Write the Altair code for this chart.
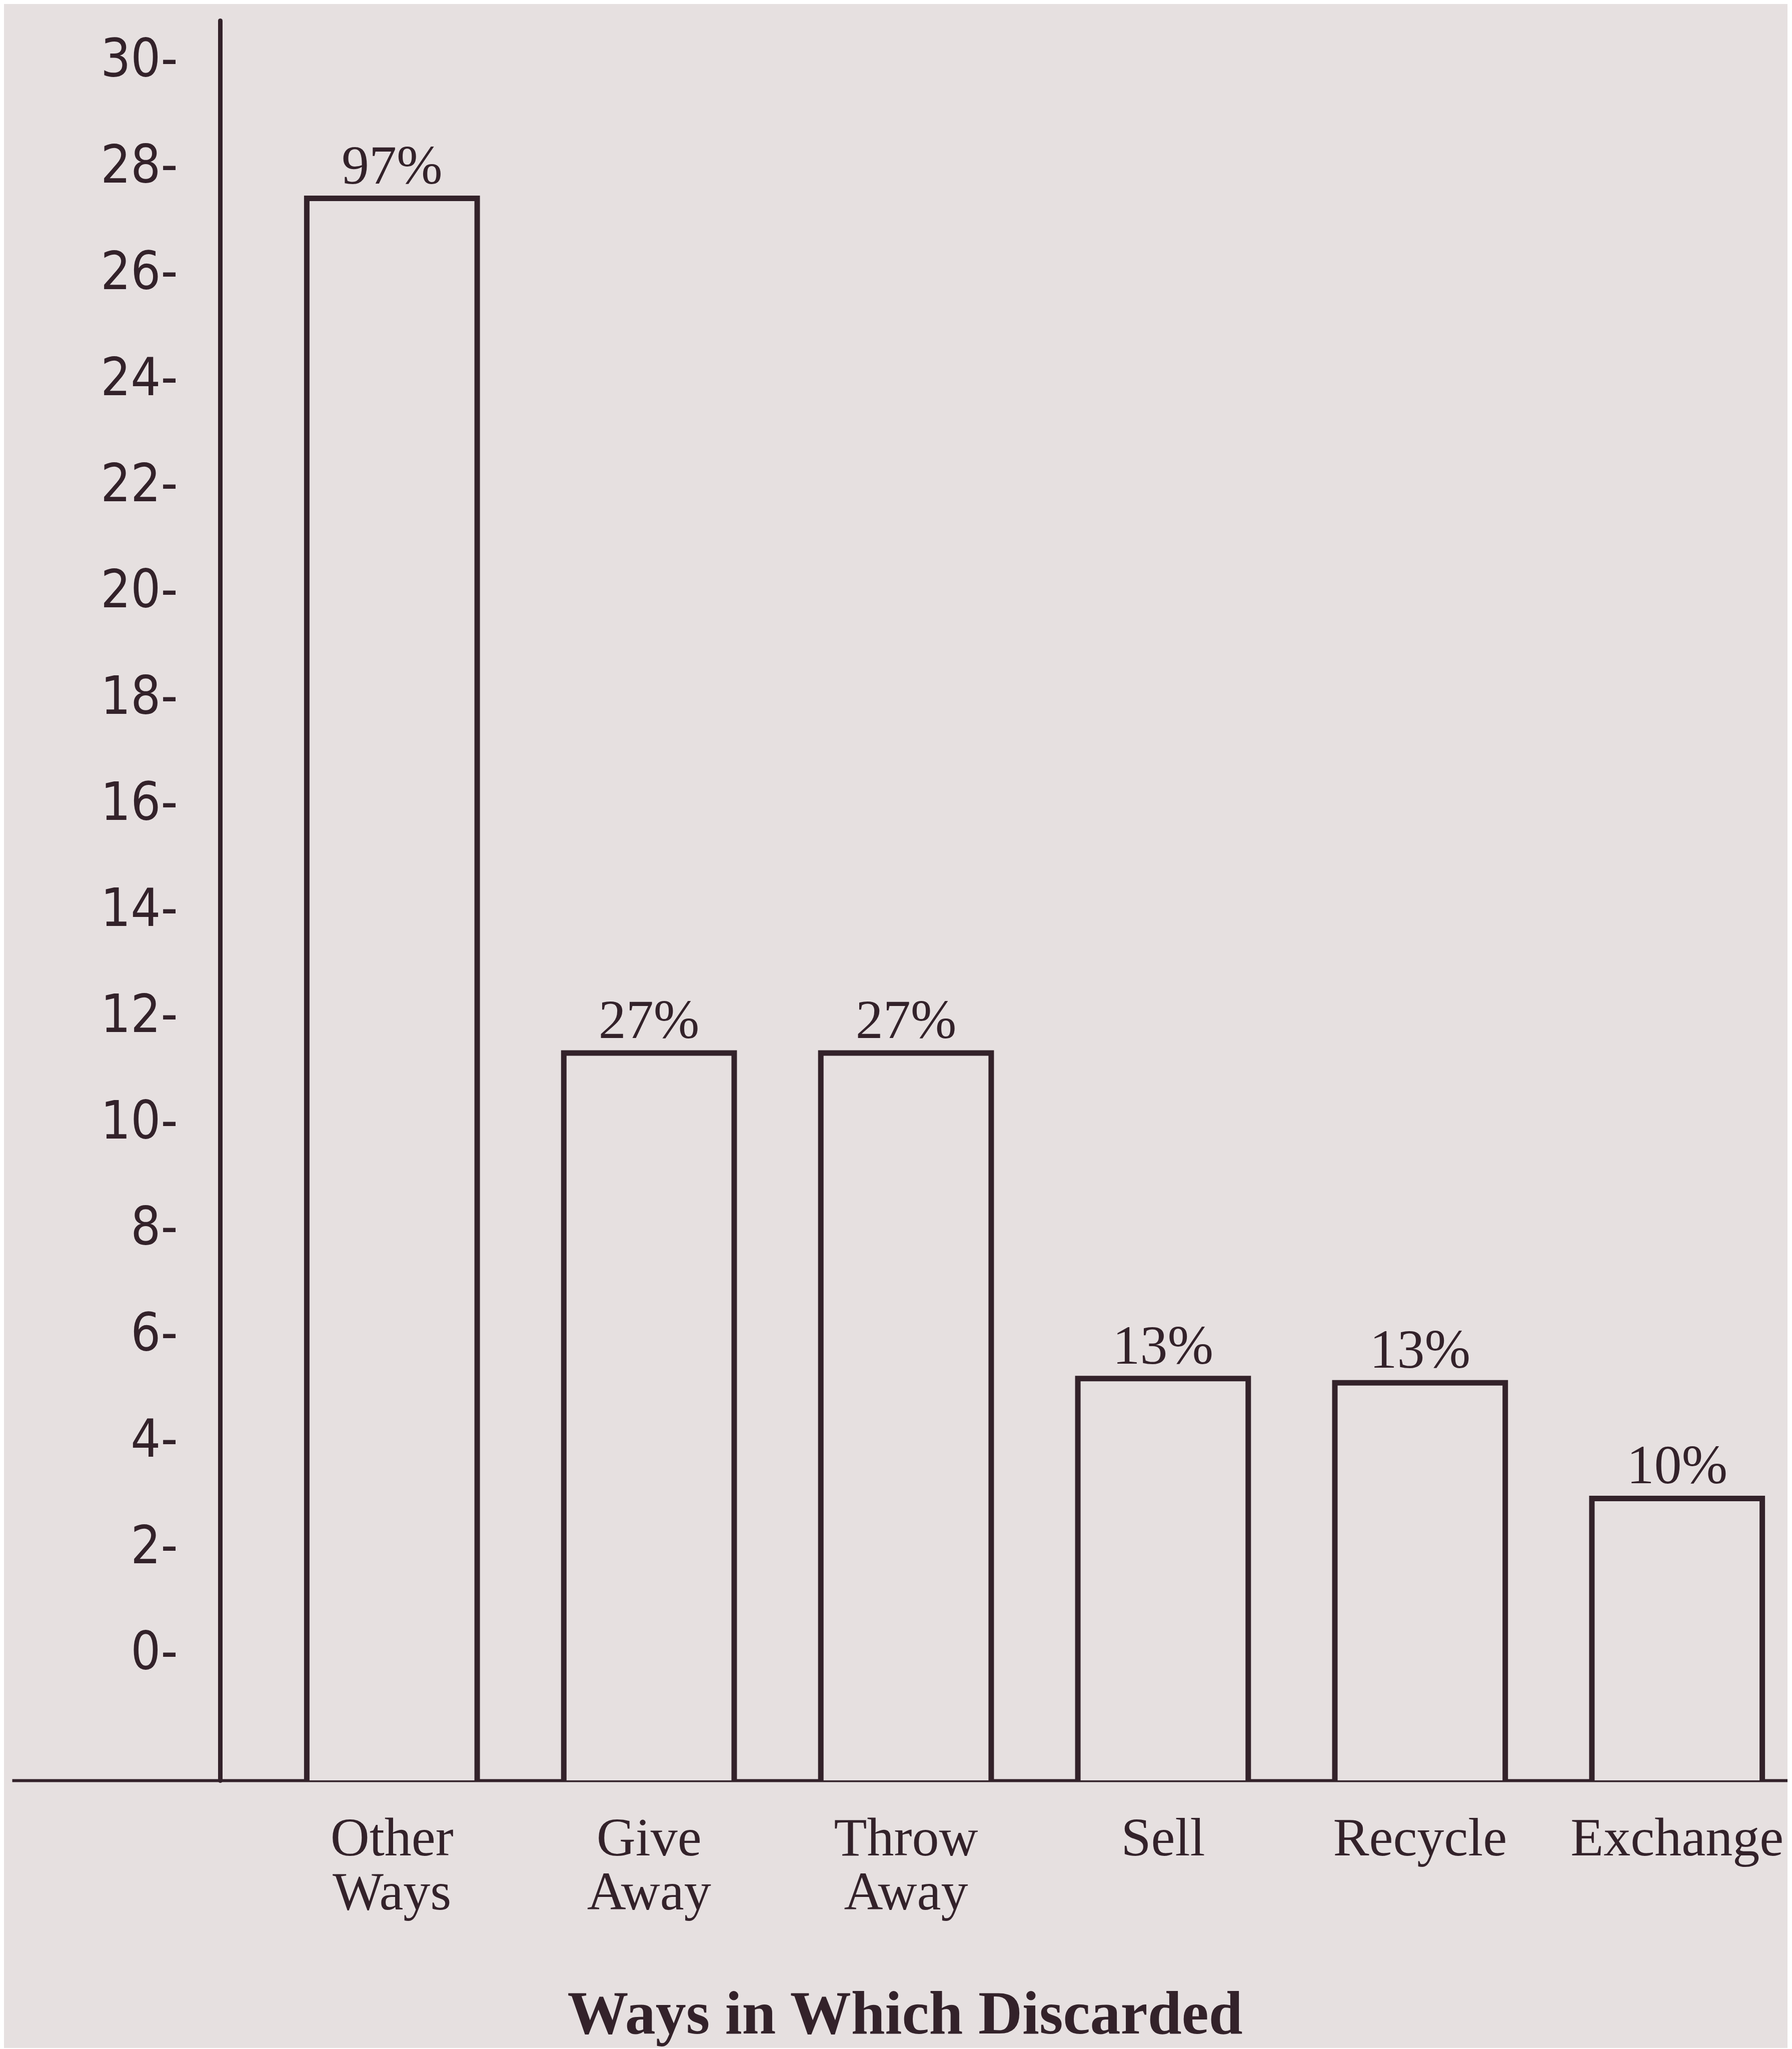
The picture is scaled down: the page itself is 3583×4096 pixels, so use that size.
import altair as alt
import pandas as pd

# ---- data ----
categories = ["Other Ways", "Give Away", "Throw Away", "Sell", "Recycle", "Exchange"]
values = [27.4, 11.3, 11.3, 5.17, 5.09, 2.91]
pct_labels = ["97%", "27%", "27%", "13%", "13%", "10%"]
y_ticks = list(range(0, 31, 2))
title_text = "Ways in Which Discarded"

# ---- styling ----
BG = "#e6e0e0"
INK = "#33222a"
SERIF = "Liberation Serif"
SANS = "Liberation Sans Narrow, DejaVu Sans Condensed, Roboto Condensed, Liberation Sans"
Y_MIN, Y_MAX = -2.4, 30.75

df = pd.DataFrame({"cat": categories, "val": values, "pct": pct_labels})

x_enc = alt.X(
    "cat:N",
    sort=categories,
    scale=alt.Scale(paddingInner=0.337, paddingOuter=0.6225, align=0.9212, round=False),
    axis=alt.Axis(
        title=title_text,
        labelExpr="split(datum.label, ' ')",
        labelFont=SERIF,
        labelFontSize=108,
        labelColor=INK,
        labelPadding=64,
        labelLineHeight=108,
        labelAngle=0,
        labelBaseline="top",
        labelBound=False,
        labelOverlap=False,
        labelLimit=2000,
        ticks=False,
        tickSize=0,
        domainColor=INK,
        domainWidth=6,
        titleFont=SERIF,
        titleFontSize=122,
        titleFontWeight="bold",
        titleColor=INK,
        titleBaseline="alphabetic",
        titleAlign="center",
        titleX=1785,
        titleY=505,
        titleLimit=4000,
    ),
)

y_enc = alt.Y(
    "val:Q",
    scale=alt.Scale(domain=[Y_MIN, Y_MAX], nice=False, zero=False),
    axis=alt.Axis(
        values=y_ticks,
        labelExpr="datum.value + '-'",
        title=None,
        grid=False,
        ticks=False,
        tickSize=0,
        offset=-416,
        labelPadding=85,
        labelFont=SANS,
        labelFontSize=105,
        labelColor=INK,
        labelOverlap=False,
        labelLimit=2000,
        domainColor=INK,
        domainWidth=9,
        domainCap="round",
    ),
)

bars = alt.Chart(df).mark_bar(
    fill=BG, stroke=INK, strokeWidth=11, clip=True
).encode(
    x=x_enc,
    y=y_enc,
    y2=alt.datum(Y_MIN - 0.1),
)

labels = alt.Chart(df).mark_text(
    font=SERIF, fontSize=110, color=INK, baseline="alphabetic", align="center", dy=-30
).encode(
    x=x_enc,
    y=y_enc,
    text="pct:N",
)

chart = (
    alt.layer(bars, labels)
    .properties(
        width=3550,
        height=3518,
        padding={"left": 16, "top": 33, "right": 0, "bottom": 535},
        autosize="none",
        background=BG,
    )
    .configure_view(stroke=None)
)

chart.save("out.html", embed_options={"renderer": "svg", "actions": False})
